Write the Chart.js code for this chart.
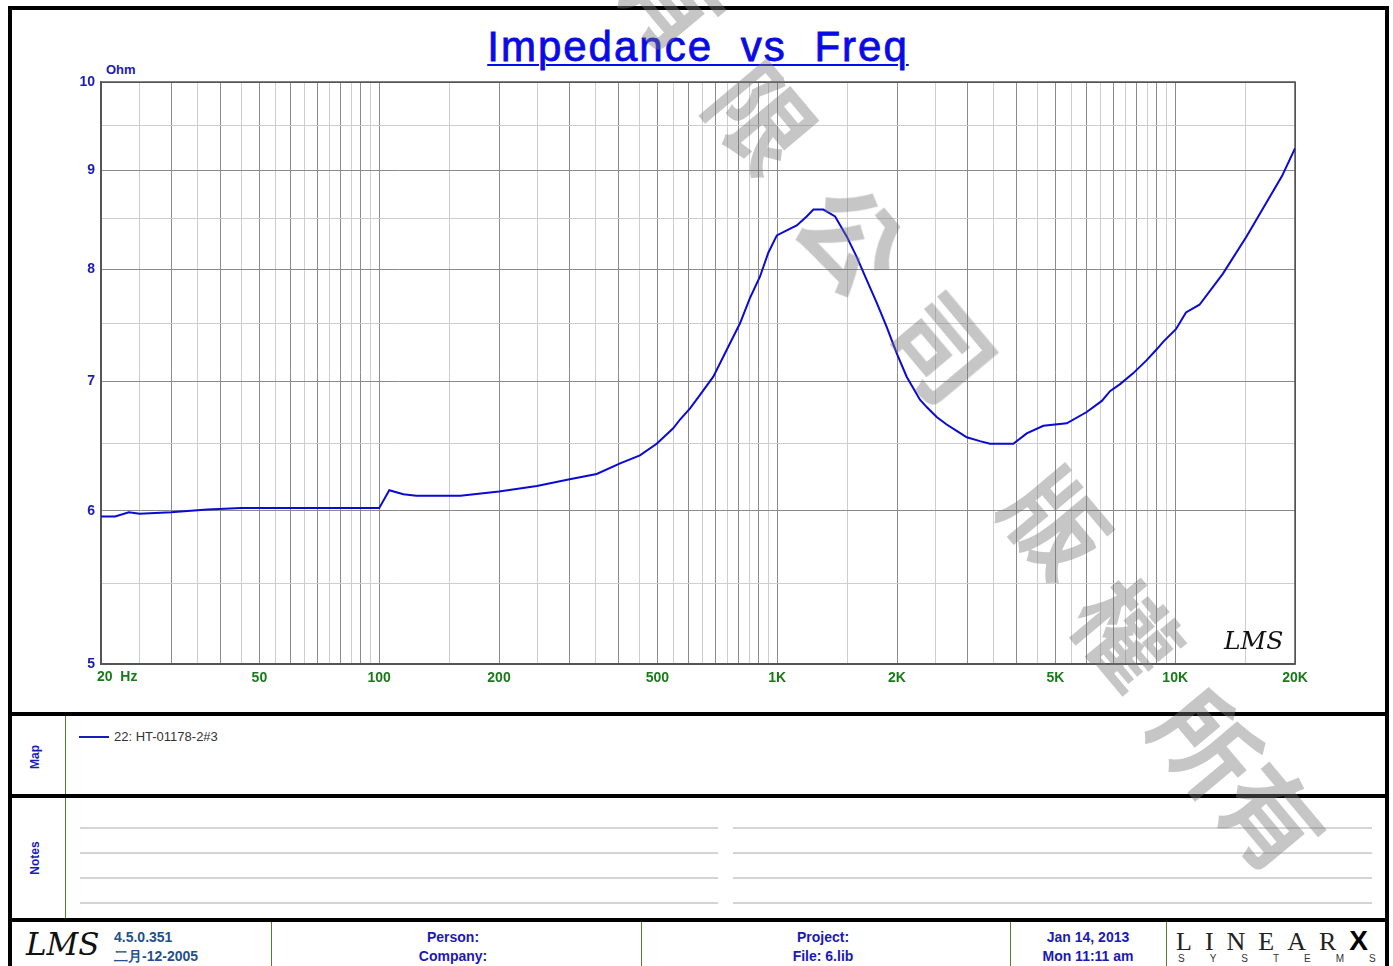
<!DOCTYPE html>
<html>
<head>
<meta charset="utf-8">
<script src="https://cdn.jsdelivr.net/npm/chart.js"></script>
<style>
  html, body { margin: 0; padding: 0; background: #fff; }
  body { width: 1393px; height: 966px; position: relative; overflow: hidden; font-family: "Liberation Sans", Arial, sans-serif; }
  .abs { position: absolute; }
  #frame { left: 8px; top: 6px; width: 1381px; height: 1000px; border: 4px solid #000; box-sizing: border-box; }
  .sep { left: 8px; width: 1381px; height: 4px; background: #000; }
  .vline { width: 1px; background: #4f7f2f; }
  .note { height: 2px; background: #d4d4d4; }
  .side { width: 60px; height: 16px; line-height: 16px; text-align: center; transform: rotate(-90deg);
          font: bold 12px "Liberation Sans", Arial, sans-serif; color: #1a1ab4; }
  #title { left: 398px; top: 23px; width: 600px; text-align: center; line-height: 42px;
           font: 42px "Liberation Sans", Arial, sans-serif; color: #0a0ae6; letter-spacing: 2px; word-spacing: 14px;
           white-space: pre; -webkit-text-stroke: 0.8px #0a0ae6; }
  #title span { text-decoration: underline; text-decoration-thickness: 2px; text-underline-offset: 3px; }
  .foot { font: bold 14px "Liberation Sans", Arial, sans-serif; color: #1a1ab4; text-align: center; line-height: 19px; }
  .wm { font: bold 100px "Noto Sans CJK TC", sans-serif; color: rgba(120,120,120,0.42); width: 120px; height: 120px;
        line-height: 120px; text-align: center; transform: rotate(50deg); pointer-events: none; }
  canvas { position: absolute; left: 0; top: 0; }
</style>
</head>
<body>
<div id="frame" class="abs"></div>

<div id="title" class="abs"><span>Impedance vs Freq</span></div>
<div class="abs" style="left:106px;top:62px;font:bold 13px 'Liberation Sans',Arial;color:#1a1ab4;">Ohm</div>

<canvas id="chart" width="1393" height="712"></canvas>

<div class="abs" style="left:1224px;top:626px;font:italic 25px 'DejaVu Serif',serif;color:#111;">LMS</div>

<!-- map -->
<div class="sep abs" style="top:712px;"></div>
<div class="vline abs" style="left:65px;top:716px;height:78px;"></div>
<div class="side abs" style="left:6px;top:749px;">Map</div>
<div class="abs" style="left:79px;top:736px;width:30px;height:2px;background:#1a1ab4;"></div>
<div class="abs" style="left:114px;top:729px;font:13px 'Liberation Sans',Arial;color:#333;">22: HT-01178-2#3</div>

<!-- notes -->
<div class="sep abs" style="top:794px;"></div>
<div class="vline abs" style="left:65px;top:798px;height:120px;"></div>
<div class="side abs" style="left:6px;top:850px;">Notes</div>
<div class="note abs" style="left:80px;top:827px;width:638px;"></div>
<div class="note abs" style="left:733px;top:827px;width:639px;"></div>
<div class="note abs" style="left:80px;top:852px;width:638px;"></div>
<div class="note abs" style="left:733px;top:852px;width:639px;"></div>
<div class="note abs" style="left:80px;top:877px;width:638px;"></div>
<div class="note abs" style="left:733px;top:877px;width:639px;"></div>
<div class="note abs" style="left:80px;top:902px;width:638px;"></div>
<div class="note abs" style="left:733px;top:902px;width:639px;"></div>

<!-- footer -->
<div class="sep abs" style="top:918px;"></div>
<div class="vline abs" style="left:271px;top:922px;height:44px;"></div>
<div class="vline abs" style="left:641px;top:922px;height:44px;"></div>
<div class="vline abs" style="left:1010px;top:922px;height:44px;"></div>
<div class="vline abs" style="left:1166px;top:922px;height:44px;"></div>
<div class="abs" style="left:26px;top:926px;font:italic 31px 'DejaVu Serif',serif;color:#111;">LMS</div>
<div class="abs" style="left:114px;top:928px;font:bold 14px 'Liberation Sans',Arial;color:#24508a;line-height:19px;">4.5.0.351<br>二月-12-2005</div>
<div class="foot abs" style="left:353px;top:928px;width:200px;">Person:<br>Company:</div>
<div class="foot abs" style="left:723px;top:928px;width:200px;">Project:<br>File: 6.lib</div>
<div class="foot abs" style="left:1013px;top:928px;width:150px;">Jan 14, 2013<br>Mon 11:11 am</div>
<div class="abs" style="left:1176px;top:925px;font:26px 'Liberation Serif',serif;color:#222;letter-spacing:13px;white-space:pre;">LINEAR<b style="font:900 28px 'Liberation Sans',Arial;color:#000;letter-spacing:0;">X</b></div>
<div class="abs" style="left:1178px;top:953px;font:10px 'Liberation Sans',Arial;color:#333;letter-spacing:25px;white-space:pre;">SYSTEMS</div>

<!-- watermark -->
<div class="wm abs" style="left:615px;top:-65px;">有</div>
<div class="wm abs" style="left:705px;top:55px;">限</div>
<div class="wm abs" style="left:795px;top:175px;">公</div>
<div class="wm abs" style="left:885px;top:285px;">司</div>
<div class="wm abs" style="left:1000px;top:460px;">版</div>
<div class="wm abs" style="left:1070px;top:570px;">權</div>
<div class="wm abs" style="left:1150px;top:680px;">所</div>
<div class="wm abs" style="left:1215px;top:755px;">有</div>

<script>
// impedance curve (Hz, Ohm)
const freqHz = [
    20, 21.7, 23.5, 25, 30, 33, 37, 45, 100,
    106, 115, 124, 160, 200, 249, 301, 352, 403, 452, 498, 548, 570, 604, 640, 691,
    747, 806, 854, 905, 950, 998, 1057, 1120, 1186, 1233, 1306, 1398, 1495, 1584,
    1678, 1778, 1884, 1996, 2115, 2284, 2375, 2516, 2666, 2825, 2994, 3232, 3426,
    3920, 4236, 4664, 5340, 5994, 6542, 6858, 7284, 7850, 8482, 9022, 9338, 10044,
    10644, 11508, 13184, 15110, 16658, 18550, 20000
];
const impedanceOhm = [
    5.96, 5.96, 5.99, 5.98, 5.99, 6.00, 6.01, 6.02, 6.02,
    6.15, 6.12, 6.11, 6.11, 6.14, 6.18, 6.23, 6.27, 6.35, 6.41, 6.50, 6.62, 6.69, 6.78, 6.89, 7.04,
    7.27, 7.50, 7.73, 7.93, 8.16, 8.33, 8.38, 8.43, 8.52, 8.59, 8.59, 8.52, 8.32, 8.12,
    7.90, 7.69, 7.47, 7.24, 7.04, 6.85, 6.79, 6.71, 6.65, 6.60, 6.55, 6.52, 6.50,
    6.50, 6.58, 6.64, 6.66, 6.75, 6.84, 6.92, 6.98, 7.07, 7.18, 7.28, 7.34, 7.45,
    7.60, 7.67, 7.96, 8.32, 8.61, 8.94, 9.24
];

// grid lines (vertical, Hz) and tick labels
const xGridHz = [
    20, 25, 30, 35, 40, 45, 50, 55, 60, 65, 70, 75, 80, 85, 90, 95, 100,
    150, 200, 250, 300, 350, 400, 450, 500, 550, 600, 650, 700, 750, 800, 850, 900, 950, 1000,
    1500, 2000, 2500, 3000, 3500, 4000, 4500, 5000, 5500, 6000, 6500, 7000, 7500, 8000, 8500,
    9000, 9500, 10000, 15000, 20000
];
const xLabelValues = [50, 100, 200, 500, 1000, 2000, 5000, 10000, 20000];
const xLabelTexts = ['50', '100', '200', '500', '1K', '2K', '5K', '10K', '20K'];
const yGridOhm = [5, 5.5, 6, 6.5, 7, 7.5, 8, 8.5, 9, 9.5, 10];
const yLabelValues = [5, 6, 7, 8, 9, 10];

const seriesName = '22: HT-01178-2#3';
const curveColor = '#0a0ad2';
const gridDark = '#8a8a8a';
const gridLight = '#cdcdcd';
const edgeColor = '#555555';

// whole multiples of a decade get the darker line
function isMajor(v) {
    const m = v / Math.pow(10, Math.floor(Math.log10(v) + 1e-9));
    return Math.abs(m - Math.round(m)) < 1e-6;
}

function gridColor(min, max) {
    return ctx => {
        const v = ctx.tick ? ctx.tick.value : 0;
        if (v === min || v === max) return edgeColor;
        return isMajor(v) ? gridDark : gridLight;
    };
}

// plot frame + the "20  Hz" label that sits left-aligned on the first line
const frameAndLabels = {
    id: 'frameAndLabels',
    beforeDatasetsDraw(chart) {
        const { ctx, chartArea: a } = chart;
        ctx.save();
        ctx.strokeStyle = edgeColor;
        ctx.lineWidth = 1.5;
        ctx.strokeRect(a.left, a.top, a.right - a.left, a.bottom - a.top);
        ctx.restore();
    },
    afterDraw(chart) {
        const { ctx, chartArea: a, scales } = chart;
        ctx.save();
        ctx.fillStyle = '#1a7a1a';
        ctx.font = 'bold 14px "Liberation Sans", Arial, sans-serif';
        ctx.textAlign = 'left';
        ctx.textBaseline = 'middle';
        ctx.fillText('20  Hz', scales.x.getPixelForValue(20) - 4, a.bottom + 13);
        ctx.restore();
    }
};

const canvas = document.getElementById('chart');
new Chart(canvas.getContext('2d'), {
    type: 'line',
    data: {
        datasets: [{
            label: seriesName,
            data: freqHz.map((f, i) => ({ x: f, y: impedanceOhm[i] })),
            borderColor: curveColor,
            borderWidth: 2,
            pointRadius: 0,
            tension: 0,
            fill: false
        }]
    },
    options: {
        responsive: false,
        devicePixelRatio: 1,
        animation: false,
        layout: { padding: { left: 71, right: 98, top: 82, bottom: 18 } },
        plugins: {
            legend: { display: false },
            tooltip: { enabled: false },
            title: { display: false }
        },
        scales: {
            x: {
                type: 'logarithmic',
                min: 20,
                max: 20000,
                afterBuildTicks: scale => { scale.ticks = xGridHz.map(v => ({ value: v })); },
                afterFit: scale => { scale.height = 30; },
                grid: { color: gridColor(20, 20000), lineWidth: 1, drawTicks: false },
                border: { color: edgeColor, width: 1.5 },
                ticks: {
                    autoSkip: false,
                    maxRotation: 0,
                    padding: 6,
                    color: '#1a7a1a',
                    font: { family: '"Liberation Sans", Arial, sans-serif', size: 14, weight: 'bold' },
                    callback: v => {
                        const i = xLabelValues.indexOf(v);
                        return i >= 0 ? xLabelTexts[i] : '';
                    }
                }
            },
            y: {
                type: 'logarithmic',
                min: 5,
                max: 10,
                afterBuildTicks: scale => { scale.ticks = yGridOhm.map(v => ({ value: v })); },
                afterFit: scale => { scale.width = 30; },
                grid: { color: gridColor(5, 10), lineWidth: 1, drawTicks: false },
                border: { color: edgeColor, width: 1.5 },
                ticks: {
                    autoSkip: false,
                    padding: 6,
                    color: '#1a1ab4',
                    font: { family: '"Liberation Sans", Arial, sans-serif', size: 14, weight: 'bold' },
                    callback: v => (yLabelValues.includes(v) ? String(v) : '')
                }
            }
        }
    },
    plugins: [frameAndLabels]
});
</script>
</body>
</html>
